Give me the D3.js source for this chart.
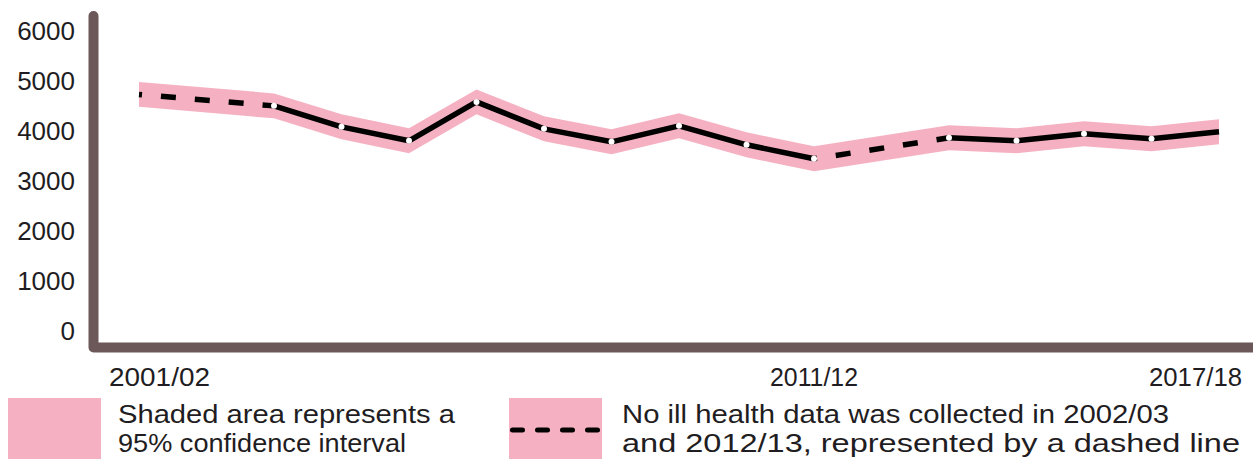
<!DOCTYPE html>
<html>
<head>
<meta charset="utf-8">
<script src="https://cdn.jsdelivr.net/npm/d3@7"></script>
<style>
  html, body { margin: 0; padding: 0; background: #fff; }
  svg { display: block; }
  text { font-family: "Liberation Sans", Arial, sans-serif; fill: #1f1d22; }
</style>
</head>
<body>
<svg id="chart" width="1253" height="459"></svg>
<script>
// ---- data ----
const years = ["2001/02","2002/03","2003/04","2004/05","2005/06","2006/07","2007/08","2008/09","2009/10",
               "2010/11","2011/12","2012/13","2013/14","2014/15","2015/16","2016/17","2017/18"];
const values = [4720, null, 4490, 4070, 3790, 4570, 4030, 3770, 4090, 3710, 3430, null, 3850, 3790, 3930, 3830, 3970];
const upper  = [4970, null, 4740, 4320, 4040, 4820, 4280, 4020, 4340, 3960, 3680, null, 4100, 4040, 4180, 4080, 4220];
const lower  = [4470, null, 4240, 3820, 3540, 4320, 3780, 3520, 3840, 3460, 3180, null, 3600, 3540, 3680, 3580, 3720];
const yTicks = [0, 1000, 2000, 3000, 4000, 5000, 6000];
const xTickLabels = ["2001/02", "2011/12", "2017/18"];
const legendTexts = [
  ["Shaded area represents a", "95% confidence interval"],
  ["No ill health data was collected in 2002/03", "and 2012/13, represented by a dashed line"]
];

// ---- layout ----
const svg = d3.select("#chart");
const pink = "#f5b1c2";
const axisColor = "#6d5859";

const x = d3.scalePoint().domain(years).range([139, 1219]);
const y = d3.scaleLinear().domain([0, 6000]).range([330, 30.5]);

const rows = years.map((yr, i) => ({ yr, v: values[i], hi: upper[i], lo: lower[i], i }));
const present = rows.filter(d => d.v != null);

// confidence band
const area = d3.area()
  .x(d => x(d.yr))
  .y0(d => y(d.lo))
  .y1(d => y(d.hi));
svg.append("path").datum(present).attr("d", area).attr("fill", pink);

// solid line (gaps where no data)
const line = d3.line().defined(d => d.v != null).x(d => x(d.yr)).y(d => y(d.v));
svg.append("path").datum(rows).attr("d", line)
  .attr("fill", "none").attr("stroke", "#000").attr("stroke-width", 5.5)
  .attr("stroke-linejoin", "round");

// dashed bridges over missing years
const gaps = [];
rows.forEach((d, i) => {
  if (d.v == null && i > 0 && i < rows.length - 1) gaps.push([rows[i - 1], rows[i + 1]]);
});
const bridge = d3.line().x(d => x(d.yr)).y(d => y(d.v));
svg.selectAll("path.dash").data(gaps).join("path").attr("class", "dash")
  .attr("d", bridge)
  .attr("fill", "none").attr("stroke", "#000").attr("stroke-width", 5.5)
  .attr("stroke-dasharray", "15 19").attr("stroke-dashoffset", 12);

// white points (interior only)
svg.selectAll("circle.pt").data(present.filter((d, k) => k > 0 && k < present.length - 1))
  .join("circle").attr("class", "pt")
  .attr("cx", d => x(d.yr)).attr("cy", d => y(d.v)).attr("r", 3)
  .attr("fill", "#fff");

// axes lines
const axisPath = d3.path();
axisPath.moveTo(93.5, 16);
axisPath.lineTo(93.5, 347.5);
axisPath.lineTo(1262, 347.5);
svg.append("path").attr("d", axisPath.toString())
  .attr("fill", "none").attr("stroke", axisColor).attr("stroke-width", 10)
  .attr("stroke-linecap", "round").attr("stroke-linejoin", "round");

// y axis ticks
const yAxis = d3.axisLeft(y).tickValues(yTicks).tickSize(0).tickPadding(18.5).tickFormat(d3.format("d"));
const gy = svg.append("g").attr("transform", "translate(93.5,0)").call(yAxis);
gy.select(".domain").remove();
gy.selectAll("text").attr("font-size", 26).attr("font-family", "Liberation Sans, Arial, sans-serif")
  .attr("fill", "#1f1d22").attr("dy", "0.36em");

// x tick labels
const xLabelCfg = { "2001/02": { anchor: "start", dx: -30, w: 101 },
                    "2011/12": { anchor: "middle", dx: 0, w: 88 },
                    "2017/18": { anchor: "end", dx: 23, w: 93 } };
svg.selectAll("text.xl").data(xTickLabels).join("text").attr("class", "xl")
  .attr("x", d => x(d) + xLabelCfg[d].dx)
  .attr("y", 386)
  .attr("text-anchor", d => xLabelCfg[d].anchor)
  .attr("font-size", 26)
  .attr("textLength", d => xLabelCfg[d].w)
  .attr("lengthAdjust", "spacingAndGlyphs")
  .text(d => d);

// legend
const legendCfg = [
  { bx: 8, tx: 118, widths: [337, 288], dashed: false },
  { bx: 509, tx: 622, widths: [547, 618], dashed: true }
];
legendCfg.forEach((c, k) => {
  svg.append("rect").attr("x", c.bx).attr("y", 398).attr("width", 93).attr("height", 70).attr("fill", pink);
  if (c.dashed) {
    svg.append("line").attr("x1", c.bx + 3.5).attr("x2", c.bx + 92).attr("y1", 430).attr("y2", 430)
      .attr("stroke", "#000").attr("stroke-width", 5).attr("stroke-linecap", "round")
      .attr("stroke-dasharray", "10 15");
  }
  legendTexts[k].forEach((t, j) => {
    svg.append("text").attr("x", c.tx).attr("y", 422.5 + j * 29.5)
      .attr("font-size", 26)
      .attr("textLength", c.widths[j]).attr("lengthAdjust", "spacingAndGlyphs")
      .text(t);
  });
});
</script>
</body>
</html>
